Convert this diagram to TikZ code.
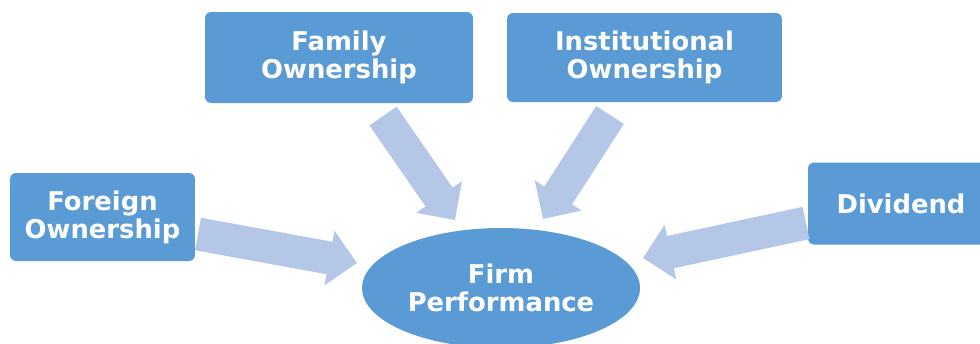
\documentclass[tikz,border=0pt]{standalone}
\usepackage{fontspec}
\setmainfont{DejaVu Sans}
\usetikzlibrary{shapes.geometric,arrows.meta}
\definecolor{boxblue}{HTML}{5B9BD5}
\definecolor{arrowblue}{HTML}{B4C7E7}

\begin{document}
\begin{tikzpicture}[x=0.02cm, y=-0.02cm,
  factor/.style={fill=boxblue, rounded corners=0.12cm, text=white, align=center,
    font=\bfseries\fontsize{14.7}{16}\selectfont, inner sep=0pt},
  bigarrow/.style={draw=arrowblue, line width=0.66cm,
    -{Triangle[length=0.56cm, width=1.08cm, color=arrowblue]}}]
\useasboundingbox (0,0) rectangle (980,343);
\node[factor, minimum width=5.36cm, minimum height=1.82cm] (family) at (339,57.5) {Family\\Ownership};
\node[factor, minimum width=5.5cm, minimum height=1.78cm] (inst) at (644.5,57.5) {Institutional\\Ownership};
\node[factor, minimum width=3.7cm, minimum height=1.76cm] (foreign) at (102.5,217) {Foreign\\Ownership};
\node[factor, minimum width=3.72cm, minimum height=1.64cm] (dividend) at (901,203.5) {Dividend};
\node[factor, ellipse, minimum width=5.56cm, minimum height=2.4cm] (firm) at (501,288) {Firm\\Performance};
\coordinate (famS) at (383,116);
\coordinate (famT) at (455,220);
\coordinate (instS) at (610,115);
\coordinate (instT) at (543,219);
\coordinate (forS) at (198,234);
\coordinate (forT) at (357,263);
\coordinate (divS) at (806,223);
\coordinate (divT) at (643,258);
\draw[bigarrow] (famS) -- (famT);
\draw[bigarrow] (instS) -- (instT);
\draw[bigarrow] (forS) -- (forT);
\draw[bigarrow] (divS) -- (divT);
\end{tikzpicture}
\end{document}
